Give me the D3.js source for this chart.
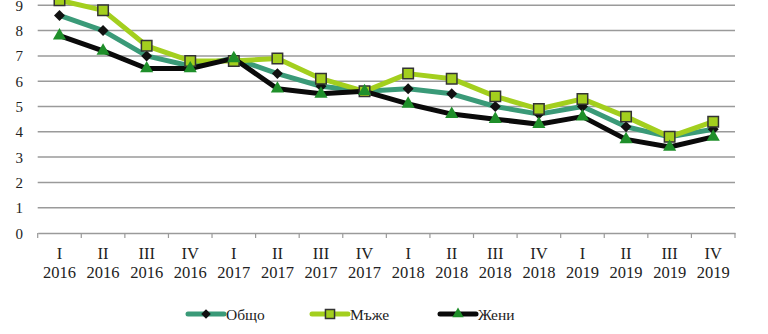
<!DOCTYPE html>
<html><head><meta charset="utf-8">
<script src="https://cdn.jsdelivr.net/npm/d3@7"></script>
<style>body{margin:0;background:#fff}svg{display:block}</style>
</head><body>
<svg id="c" width="768" height="334"></svg>
<script>
const quarters = ["I","II","III","IV","I","II","III","IV","I","II","III","IV","I","II","III","IV"];
const years = ["2016","2016","2016","2016","2017","2017","2017","2017","2018","2018","2018","2018","2019","2019","2019","2019"];
const categories = quarters.map((q,i)=>q+" "+years[i]);
const total = [8.6,8.0,7.0,6.6,6.9,6.3,5.8,5.6,5.7,5.5,5.0,4.7,5.0,4.2,3.8,4.1];
const men   = [9.2,8.8,7.4,6.8,6.8,6.9,6.1,5.6,6.3,6.1,5.4,4.9,5.3,4.6,3.8,4.4];
const women = [7.8,7.2,6.5,6.5,6.9,5.7,5.5,5.6,5.1,4.7,4.5,4.3,4.6,3.7,3.4,3.8];
const yTicks = [0,1,2,3,4,5,6,7,8,9];
const seriesNames = ["Общо","Мъже","Жени"];

const svg = d3.select("#c");
const font = "Liberation Serif, Times New Roman, serif";
const x = d3.scaleBand().domain(categories).range([37.7,735]);
const y = d3.scaleLinear().domain([0,10]).range([233,-20]);

// gridlines
svg.append("g").selectAll("line").data(yTicks.filter(d=>d>0)).join("line")
  .attr("x1",37.7).attr("x2",735).attr("y1",d=>y(d)).attr("y2",d=>y(d))
  .attr("stroke","#9a9a9a").attr("stroke-width",1.5);

// y labels
svg.append("g").selectAll("text").data(yTicks).join("text")
  .attr("x",23).attr("y",d=>y(d)+5.5).attr("text-anchor","end")
  .attr("font-family",font).attr("font-size",15).attr("fill","#222").text(d=>d);

// x axis
const ax = svg.append("g").attr("transform","translate(0,233)")
  .call(d3.axisBottom(x).tickSize(0).tickFormat(""));
ax.select(".domain").attr("stroke","#9a9a9a").attr("stroke-width",1.5);
const bounds = categories.map(c=>x(c)).concat([735]);
svg.append("g").selectAll("line").data(bounds).join("line")
  .attr("x1",d=>d).attr("x2",d=>d).attr("y1",233).attr("y2",238)
  .attr("stroke","#9a9a9a").attr("stroke-width",1.2);

const xl = svg.append("g");
categories.forEach((c,i)=>{
  const cx = x(c)+x.bandwidth()/2;
  xl.append("text").attr("x",cx).attr("y",259).attr("text-anchor","middle")
    .attr("font-family",font).attr("font-size",16.5).attr("fill","#222").text(quarters[i]);
  xl.append("text").attr("x",cx).attr("y",278).attr("text-anchor","middle")
    .attr("font-family",font).attr("font-size",16.5).attr("fill","#222").text(years[i]);
});

const line = d3.line().x((d,i)=>x(categories[i])+x.bandwidth()/2).y(d=>y(d));
const cfg = [
  {name:seriesNames[0], data:total, color:"#3a9a78", sym:d3.symbolSquare, size:60, rot:45, fill:"#111", stroke:"none"},
  {name:seriesNames[1], data:men, color:"#a3cf1e", sym:d3.symbolSquare, size:110, rot:0, fill:"#a3cf1e", stroke:"#333"},
  {name:seriesNames[2], data:women, color:"#0a0a0a", sym:d3.symbolTriangle, size:75, rot:0, fill:"#1f8f2a", stroke:"none"}
];
cfg.forEach(s=>{
  svg.append("path").datum(s.data).attr("d",line).attr("fill","none")
    .attr("stroke",s.color).attr("stroke-width",5).attr("stroke-linejoin","round");
});
cfg.forEach(s=>{
  svg.append("g").selectAll("path").data(s.data).join("path")
    .attr("transform",(d,i)=>`translate(${x(categories[i])+x.bandwidth()/2},${y(d)}) rotate(${s.rot})`)
    .attr("d",d3.symbol().type(s.sym).size(s.size))
    .attr("fill",s.fill).attr("stroke",s.stroke).attr("stroke-width",1.5);
});

// legend
const lx = [188,312,440];
cfg.forEach((s,i)=>{
  const g = svg.append("g").attr("transform",`translate(${lx[i]},314)`);
  g.append("line").attr("x1",0).attr("x2",36).attr("y1",0).attr("y2",0)
    .attr("stroke",s.color).attr("stroke-width",5).attr("stroke-linecap","round");
  g.append("path").attr("transform",`translate(18,0) rotate(${s.rot})`)
    .attr("d",d3.symbol().type(s.sym).size(s.size*0.75))
    .attr("fill",s.fill).attr("stroke",s.stroke).attr("stroke-width",1.5);
  g.append("text").attr("x",38).attr("y",5.5).attr("font-family",font).attr("font-size",15.5)
    .attr("fill","#222").text(s.name);
});
</script>
</body></html>
